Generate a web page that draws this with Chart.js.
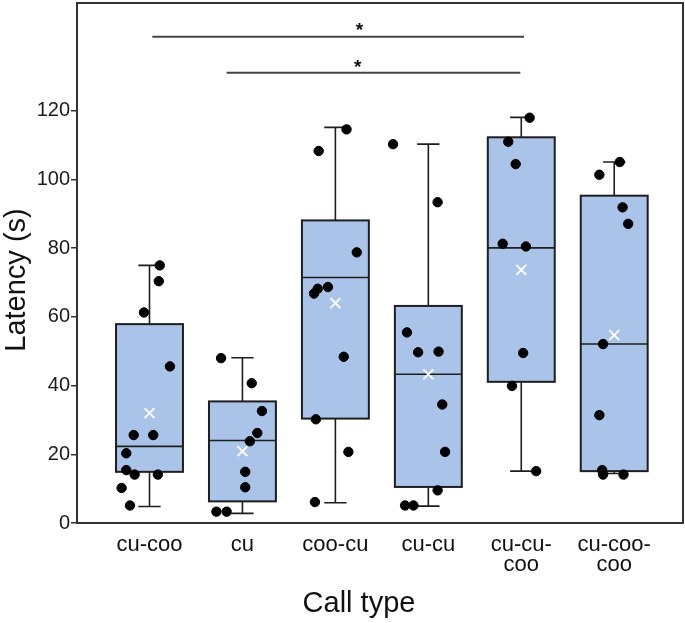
<!DOCTYPE html>
<html>
<head>
<meta charset="utf-8">
<script src="https://cdn.jsdelivr.net/npm/chart.js@4.4.0/dist/chart.umd.min.js"></script>
<style>
  html, body { margin: 0; padding: 0; background: #fff; }
  #wrap { width: 685px; height: 623px; }
</style>
</head>
<body>
<div id="wrap"><canvas id="chart"></canvas></div>
<script>
// categories (multi-line labels as arrays)
const callTypes = ['cu-coo', 'cu', 'coo-cu', 'cu-cu', ['cu-cu-', 'coo'], ['cu-coo-', 'coo']];
const yTicks = [0, 20, 40, 60, 80, 100, 120];

// box statistics
const whiskerLow  = [4.8, 2.8, 5.9, 4.9, 15.1, 14.4];
const quart1      = [14.9, 6.3, 30.4, 10.5, 41.1, 15.1];
const medians     = [22.3, 24.0, 71.5, 43.3, 80.1, 52.1];
const quart3      = [57.9, 35.4, 88.1, 63.2, 112.3, 95.3];
const whiskerHigh = [75.0, 48.1, 115.2, 110.3, 118.1, 105.1];
const means       = [32.0, 20.9, 64.0, 43.3, 73.7, 54.7];

// individual observations per call type
const obsCuCoo    = [75.0, 70.4, 61.3, 45.6, 25.6, 25.6, 20.3, 15.4, 14.1, 14.1, 10.2, 5.1];
const obsCu       = [48.0, 40.7, 32.6, 26.2, 23.8, 14.9, 10.4, 3.3, 3.3];
const obsCooCu    = [114.6, 108.3, 78.8, 68.7, 68.2, 66.8, 48.4, 30.2, 20.7, 6.1];
const obsCuCu     = [110.3, 93.4, 55.5, 49.7, 49.9, 34.5, 20.7, 9.5, 5.1, 5.1];
const obsCuCuCoo  = [118.0, 111.0, 104.5, 81.3, 80.5, 49.5, 39.9, 15.1];
const obsCuCooCoo = [105.1, 101.4, 91.9, 87.1, 52.1, 31.4, 15.4, 14.1, 14.1];
const observations = [obsCuCoo, obsCu, obsCooCu, obsCuCu, obsCuCuCoo, obsCuCooCoo];

// horizontal jitter of each dot (in category units)
const jitter = [
  [0.11, 0.10, -0.06, 0.22, -0.17, 0.04, -0.25, -0.25, -0.16, 0.09, -0.30, -0.21],
  [-0.23, 0.10, 0.21, 0.16, 0.08, 0.03, 0.03, -0.28, -0.17],
  [0.12, -0.18, 0.23, -0.08, -0.19, -0.23, 0.09, -0.21, 0.14, -0.22],
  [-0.38, 0.10, -0.23, -0.11, 0.11, 0.15, 0.18, 0.10, -0.25, -0.16],
  [0.09, -0.14, -0.06, -0.20, 0.05, 0.02, -0.10, 0.16],
  [0.06, -0.16, 0.09, 0.15, -0.12, -0.16, -0.13, -0.12, 0.10]
];

// significance brackets: from, to, height, star position
const sigFrom  = [0.03, 0.83];
const sigTo    = [4.03, 3.99];
const sigLevel = [141.6, 131.1];
const sigStarX = [2.26, 2.24];
const sigStarY = [144.2, 133.3];

const FONT = "'Liberation Sans', Arial, sans-serif";

const dotData = [];
observations.forEach((vals, i) => {
  vals.forEach((v, j) => dotData.push({ x: i + jitter[i][j], y: v }));
});
const meanData = means.map((m, i) => ({ x: i, y: m }));

// boxes, whiskers and significance lines drawn from the scales
const boxPlugin = {
  id: 'boxes',
  beforeDatasetsDraw(chart) {
    const { ctx, scales: { x, y } } = chart;
    ctx.save();
    const halfBox = 0.36, halfCap = 0.12;
    callTypes.forEach((c, i) => {
      const xl = x.getPixelForValue(i - halfBox);
      const xr = x.getPixelForValue(i + halfBox);
      const xc = x.getPixelForValue(i);
      const cl = x.getPixelForValue(i - halfCap);
      const cr = x.getPixelForValue(i + halfCap);
      const yq1 = y.getPixelForValue(quart1[i]);
      const yq3 = y.getPixelForValue(quart3[i]);
      const ymed = y.getPixelForValue(medians[i]);
      const ylo = y.getPixelForValue(whiskerLow[i]);
      const yhi = y.getPixelForValue(whiskerHigh[i]);
      ctx.strokeStyle = '#1e1e1e';
      ctx.lineWidth = 1.6;
      // whiskers
      ctx.beginPath();
      ctx.moveTo(xc, yq3); ctx.lineTo(xc, yhi);
      ctx.moveTo(cl, yhi); ctx.lineTo(cr, yhi);
      ctx.moveTo(xc, yq1); ctx.lineTo(xc, ylo);
      ctx.moveTo(cl, ylo); ctx.lineTo(cr, ylo);
      ctx.stroke();
      // box
      ctx.fillStyle = '#aac4e9';
      ctx.fillRect(xl, yq3, xr - xl, yq1 - yq3);
      ctx.lineWidth = 2;
      ctx.strokeRect(xl, yq3, xr - xl, yq1 - yq3);
      ctx.lineWidth = 1.6;
      ctx.beginPath();
      ctx.moveTo(xl, ymed); ctx.lineTo(xr, ymed);
      ctx.stroke();
    });
    // significance lines
    ctx.strokeStyle = '#444';
    ctx.lineWidth = 2;
    ctx.fillStyle = '#111';
    ctx.font = 'bold 19px ' + FONT;
    ctx.textAlign = 'center';
    ctx.textBaseline = 'middle';
    sigFrom.forEach((f, k) => {
      const yy = y.getPixelForValue(sigLevel[k]);
      ctx.beginPath();
      ctx.moveTo(x.getPixelForValue(f), yy);
      ctx.lineTo(x.getPixelForValue(sigTo[k]), yy);
      ctx.stroke();
      ctx.fillText('*', x.getPixelForValue(sigStarX[k]), y.getPixelForValue(sigStarY[k]) + 3);
    });
    ctx.restore();
  },
  afterDraw(chart) {
    const { ctx, chartArea: a } = chart;
    ctx.save();
    ctx.strokeStyle = '#333';
    ctx.lineWidth = 2;
    ctx.strokeRect(a.left, a.top, a.right - a.left, a.bottom - a.top);
    // axis titles
    ctx.fillStyle = '#111';
    ctx.font = '29px ' + FONT;
    ctx.textAlign = 'center';
    ctx.textBaseline = 'middle';
    ctx.fillText('Call type', 359, 604);
    ctx.translate(17, 280);
    ctx.rotate(-Math.PI / 2);
    ctx.fillText('Latency (s)', 0, 0);
    ctx.restore();
  }
};

new Chart(document.getElementById('chart'), {
  type: 'scatter',
  data: {
    datasets: [
      {
        label: 'observations',
        data: dotData,
        backgroundColor: '#000',
        borderColor: '#000',
        pointRadius: 4.7,
        pointHoverRadius: 4.7
      },
      {
        label: 'mean',
        data: meanData,
        pointStyle: 'crossRot',
        borderColor: '#fff',
        borderWidth: 1.8,
        pointRadius: 7,
        pointHoverRadius: 7
      }
    ]
  },
  options: {
    responsive: true,
    maintainAspectRatio: false,
    animation: false,
    layout: { autoPadding: false, padding: { top: 3, right: 2, left: 0, bottom: 0 } },
    plugins: { legend: { display: false }, tooltip: { enabled: false } },
    scales: {
      x: {
        type: 'linear',
        min: -0.78,
        max: 5.74,
        afterBuildTicks: s => { s.ticks = callTypes.map((c, i) => ({ value: i })); },
        afterFit: s => { s.height = 100; s.paddingLeft = 0; s.paddingRight = 0; },
        grid: { display: false },
        border: { display: false },
        ticks: {
          autoSkip: false,
          maxRotation: 0,
          padding: 3,
          color: '#111',
          font: { family: FONT, size: 22, lineHeight: 0.95 },
          callback: v => callTypes[v]
        }
      },
      y: {
        min: 0,
        max: 151.4,
        afterBuildTicks: s => { s.ticks = yTicks.map(v => ({ value: v })); },
        afterFit: s => { s.width = 77; s.paddingTop = 0; s.paddingBottom = 0; },
        grid: { drawOnChartArea: false, drawTicks: true, tickLength: 6, color: '#333', lineWidth: 1.5 },
        border: { display: false },
        ticks: {
          padding: 1,
          color: '#1a1a1a',
          font: { family: FONT, size: 20 }
        }
      }
    }
  },
  plugins: [boxPlugin]
});
</script>
</body>
</html>
